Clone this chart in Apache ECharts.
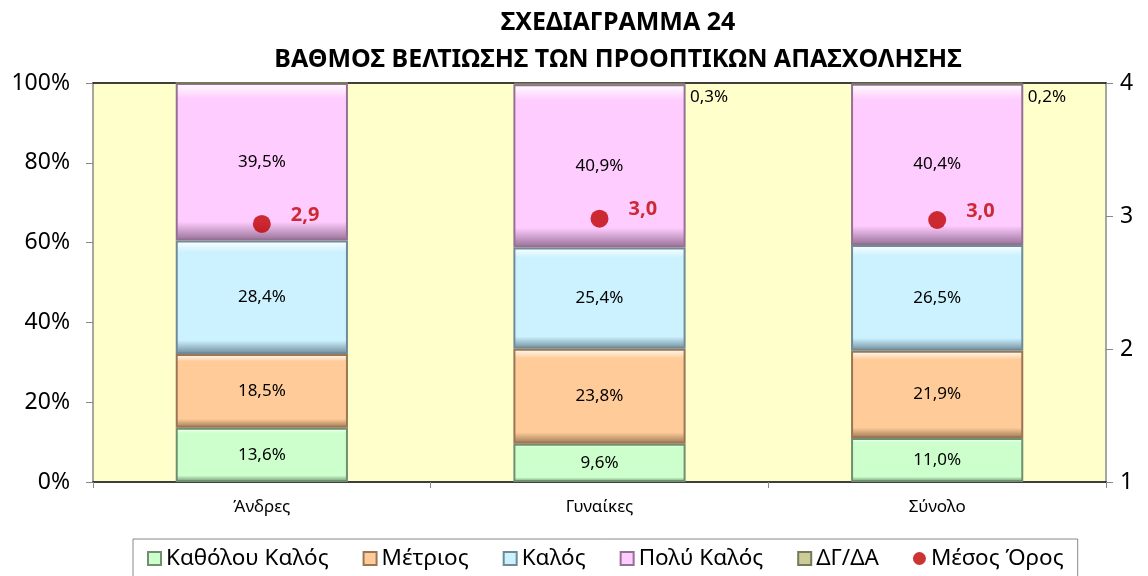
<!DOCTYPE html>
<html>
<head>
<meta charset="utf-8">
<script src="https://cdn.jsdelivr.net/npm/echarts@6/dist/echarts.min.js"></script>
<style>
  html, body { margin: 0; padding: 0; background: #fff; }
  #chart { width: 1148px; height: 576px; }
</style>
</head>
<body>
<div id="chart"></div>
<script>
// κατηγορίες και τιμές
const categories = ['Άνδρες', 'Γυναίκες', 'Σύνολο'];
const katholou = [13.6, 9.6, 11.0];
const metrios = [18.5, 23.8, 21.9];
const kalos = [28.4, 25.4, 26.5];
const polyKalos = [39.5, 40.9, 40.4];
const dgda = [0, 0.3, 0.2];
const mesosOros = [2.94, 2.98, 2.97];

const FONT = '"Noto Sans", "DejaVu Sans", sans-serif';

// ανάγλυφο εφέ στις μπάρες (περίπου όπως στο Excel)
function bevel(base, dark) {
  return {
    color: {
      type: 'linear', x: 0, y: 0, x2: 0, y2: 1,
      colorStops: [
        { offset: 0, color: '#ffffff' },
        { offset: 0.1, color: base },
        { offset: 0.88, color: base },
        { offset: 1, color: dark }
      ]
    },
    borderColor: dark,
    borderWidth: 2
  };
}

function pct(p) {
  return p.value > 0 ? p.value.toFixed(1).replace('.', ',') + '%' : '';
}

const barLabel = {
  show: true,
  position: 'inside',
  color: '#000',
  fontSize: 17,
  fontFamily: FONT,
  formatter: pct
};

const chart = echarts.init(document.getElementById('chart'));
chart.setOption({
  animation: false,
  backgroundColor: '#fff',
  title: {
    text: 'ΣΧΕΔΙΑΓΡΑΜΜΑ 24\nΒΑΘΜΟΣ ΒΕΛΤΙΩΣΗΣ ΤΩΝ ΠΡΟΟΠΤΙΚΩΝ ΑΠΑΣΧΟΛΗΣΗΣ',
    left: 613,
    textAlign: 'center',
    top: -1,
    textStyle: { fontFamily: FONT, fontSize: 25, fontWeight: 'bold', color: '#000', lineHeight: 37 }
  },
  grid: {
    left: 93, right: 42, top: 83, bottom: 94,
    show: true, backgroundColor: '#FFFFCC', borderWidth: 0
  },
  legend: {
    bottom: -4,
    left: 133,
    itemWidth: 13,
    itemHeight: 13,
    itemGap: 34,
    padding: [8, 14, 10, 14],
    borderColor: '#888',
    borderWidth: 1,
    textStyle: { fontFamily: FONT, fontSize: 22.5, color: '#000' },
    data: [
      { name: 'Καθόλου Καλός', icon: 'rect' },
      { name: 'Μέτριος', icon: 'rect' },
      { name: 'Καλός', icon: 'rect' },
      { name: 'Πολύ Καλός', icon: 'rect' },
      { name: 'ΔΓ/ΔΑ', icon: 'rect' },
      { name: 'Μέσος Όρος', icon: 'circle' }
    ]
  },
  xAxis: [
    {
      type: 'category',
      data: categories,
      axisLine: { lineStyle: { color: '#000', width: 1.5 } },
      axisTick: { show: true, length: 6, lineStyle: { color: '#888' } },
      axisLabel: { color: '#000', fontSize: 17, fontFamily: FONT, margin: 17 }
    },
    {
      type: 'category',
      position: 'top',
      data: categories,
      axisLine: { lineStyle: { color: '#000', width: 1.5 } },
      axisTick: { show: false },
      axisLabel: { show: false }
    }
  ],
  yAxis: [
    {
      type: 'value',
      min: 0, max: 100, interval: 20,
      axisLine: { show: true, lineStyle: { color: '#888', width: 1.5 } },
      axisTick: { show: true, length: 7, lineStyle: { color: '#888' } },
      splitLine: { show: false },
      axisLabel: { formatter: '{value}%', color: '#000', fontSize: 23, fontFamily: FONT, margin: 23 }
    },
    {
      type: 'value',
      position: 'right',
      min: 1, max: 4, interval: 1,
      axisLine: { show: true, lineStyle: { color: '#888', width: 1.5 } },
      axisTick: { show: true, length: 7, lineStyle: { color: '#888' } },
      splitLine: { show: false },
      axisLabel: { color: '#000', fontSize: 23, fontFamily: FONT, margin: 14 }
    }
  ],
  series: [
    {
      name: 'Καθόλου Καλός', type: 'bar', stack: 'a', barWidth: '51%',
      data: katholou, itemStyle: bevel('#CCFFCC', '#6f8f6f'), label: barLabel
    },
    {
      name: 'Μέτριος', type: 'bar', stack: 'a',
      data: metrios, itemStyle: bevel('#FFCC99', '#9a7654'), label: barLabel
    },
    {
      name: 'Καλός', type: 'bar', stack: 'a',
      data: kalos, itemStyle: bevel('#CCF2FF', '#6f8a99'), label: barLabel
    },
    {
      name: 'Πολύ Καλός', type: 'bar', stack: 'a',
      data: polyKalos, itemStyle: bevel('#FFCCFF', '#957095'), label: barLabel
    },
    {
      name: 'ΔΓ/ΔΑ', type: 'bar', stack: 'a',
      data: dgda, itemStyle: bevel('#CCCC99', '#77775a'),
      label: Object.assign({}, barLabel, { position: 'right', distance: 4, offset: [0, 14] })
    },
    {
      name: 'Μέσος Όρος', type: 'scatter', yAxisIndex: 1,
      data: mesosOros, symbolSize: 18,
      itemStyle: { color: '#C00000' },
      z: 10,
      label: {
        show: true, position: 'right', distance: 5, offset: [15, -9],
        color: '#C00000', fontSize: 20, fontWeight: 'bold', fontFamily: FONT,
        formatter: p => p.value.toFixed(1).replace('.', ',')
      }
    }
  ]
});
</script>
</body>
</html>
